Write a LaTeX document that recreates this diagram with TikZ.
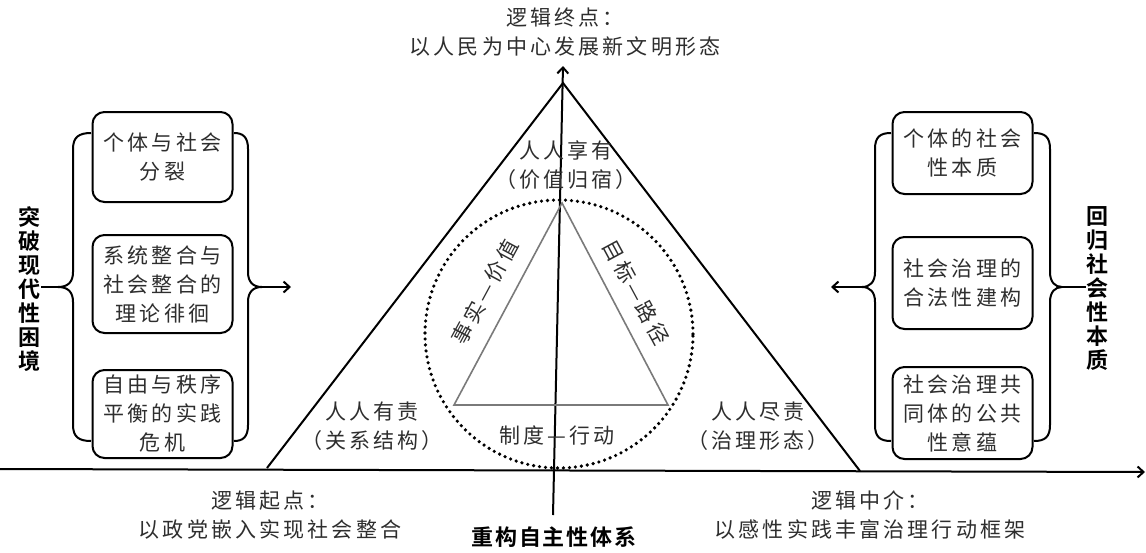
\documentclass[tikz,border=0pt]{standalone}
\usepackage{fontspec}
\newfontfamily\cjk[LetterSpace=15]{Noto Sans CJK SC}
\newfontfamily\cjkb[LetterSpace=8]{Noto Sans CJK SC Bold}
\usetikzlibrary{arrows.meta}
\definecolor{txt}{HTML}{2E2E2E}
\definecolor{inner}{HTML}{7A7A7A}
\begin{document}
\begin{tikzpicture}[x=1pt,y=-1pt,
  ln/.style={line width=2pt, black},
  arr/.style={line width=2pt, -{Straight Barb[length=6pt,width=11pt]}},
  box/.style={draw, line width=2pt, rounded corners=12pt, minimum width=140pt, align=center, inner sep=0pt, text=txt, font=\cjk\fontsize{21}{29}\selectfont},
  lbl/.style={text=txt, align=center, inner sep=0pt, font=\cjk\fontsize{21}{29}\selectfont},
  vlbl/.style={align=center, inner sep=0pt, font=\cjkb\fontsize{22}{24}\selectfont},
  blbl/.style={align=center, inner sep=0pt, font=\cjkb\fontsize{22}{26}\selectfont}]
\useasboundingbox (0,0) rectangle (1146,552);
\fill[white] (0,0) rectangle (1146,552);

% axis and big triangle
\coordinate (axL) at (0,469);
\coordinate (axR) at (1145,472);
\coordinate (apex) at (563,83);
\coordinate (tL) at (267,468);
\coordinate (tR) at (860,471);
\coordinate (vB) at (553,515);
\coordinate (vT) at (563,66);
\draw[arr] (axL) -- (axR);
\draw[ln] (tL) -- (apex) -- (tR);
\draw[arr] (vB) -- (vT);

% dotted circle
\node[circle, minimum size=268pt, draw, line width=3.6pt, dash pattern=on 0pt off 6pt, line cap=round, inner sep=0pt] (circ) at (559,334) {};

% inner triangle
\coordinate (iA) at (562,203);
\coordinate (iL) at (454,405);
\coordinate (iR) at (668,405);
\draw[inner, line width=1.6pt, line join=miter] (iA) -- (iL) -- (iR) -- cycle;

% labels in triangle
\node[lbl] (share) at (566,165) {人人享有\\（价值归宿）};
\node[lbl] (resp) at (372,426) {人人有责\\（关系结构）};
\node[lbl] (duty) at (758,426) {人人尽责\\（治理形态）};
\node[lbl] (inst) at (557,435) {制度—行动};
\node[lbl, rotate=61.7] (fact) at (485,292) {事实—价值};
\node[lbl, rotate=-61.7] (goal) at (636,292) {目标—路径};

% top and bottom labels
\node[lbl] (end) at (565,32) {逻辑终点：\\以人民为中心发展新文明形态};
\node[lbl] (start) at (270,515) {逻辑起点：\\以政党嵌入实现社会整合};
\node[lbl] (mid) at (870,515) {逻辑中介：\\以感性实践丰富治理行动框架};
\node[blbl] (rebuild) at (554,537) {重构自主性体系};

% left boxes
\node[box, minimum height=90pt] (l1) at (162.5,157) {个体与社会\\分裂};
\node[box, minimum height=98pt] (l2) at (162.5,284) {系统整合与\\社会整合的\\理论徘徊};
\node[box, minimum height=88pt] (l3) at (162.5,414) {自由与秩序\\平衡的实践\\危机};
\node[vlbl] (lt) at (30,289) {突\\破\\现\\代\\性\\困\\境};

% left braces
\draw[ln] (91,133) .. controls (79,133) and (73,137) .. (73,149) -- (73,272) .. controls (73,282) and (68,287) .. (58,287) .. controls (68,287) and (73,292) .. (73,302) -- (73,425) .. controls (73,437) and (79,441) .. (91,441);
\coordinate (lbc) at (58,287);
\draw[ln] (lbc) -- (lt.east |- lbc);
\draw[ln] (234,133) .. controls (243,133) and (248,137) .. (248,149) -- (248,272) .. controls (248,282) and (253,287) .. (262,287) .. controls (253,287) and (248,292) .. (248,302) -- (248,425) .. controls (248,437) and (243,441) .. (234,441);
\coordinate (rbc) at (262,287);
\coordinate (rbe) at (291,287);
\draw[arr] (rbc) -- (rbe);

% right boxes
\node[box, minimum height=82pt] (r1) at (962.5,153) {个体的社会\\性本质};
\node[box, minimum height=92pt] (r2) at (962.5,283) {社会治理的\\合法性建构};
\node[box, minimum height=92pt] (r3) at (962.5,413) {社会治理共\\同体的公共\\性意蕴};
\node[vlbl] (rt) at (1097,288) {回\\归\\社\\会\\性\\本\\质};

% right braces
\draw[ln] (891,133) .. controls (880,133) and (875,137) .. (875,149) -- (875,272) .. controls (875,282) and (870,287) .. (862,287) .. controls (870,287) and (875,292) .. (875,302) -- (875,425) .. controls (875,437) and (880,441) .. (891,441);
\coordinate (rlc) at (862,287);
\coordinate (rle) at (831,287);
\draw[arr] (rlc) -- (rle);
\draw[ln] (1034,133) .. controls (1045,133) and (1050,137) .. (1050,149) -- (1050,272) .. controls (1050,282) and (1055,287) .. (1062,287) .. controls (1055,287) and (1050,292) .. (1050,302) -- (1050,425) .. controls (1050,437) and (1045,441) .. (1034,441);
\coordinate (rrc) at (1062,287);
\draw[ln] (rrc) -- (rt.west |- rrc);
\end{tikzpicture}
\end{document}
